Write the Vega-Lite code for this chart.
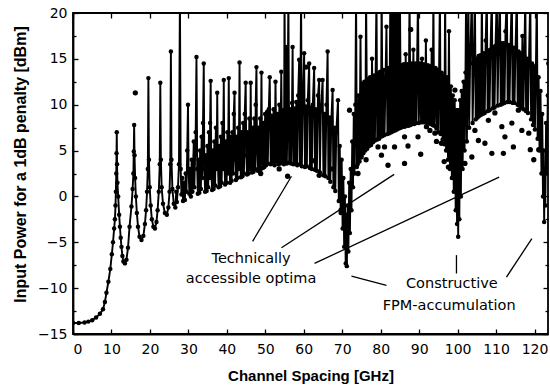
{
"$schema":"https://vega.github.io/schema/vega-lite/v6.json",
"width":475,"height":321,
"autosize":{"type":"none"},
"padding":{"left":73,"top":13,"right":2,"bottom":53},
"background":"white",
"config":{"view":{"stroke":"black","strokeWidth":1.8},"axis":{"domainColor":"black","domainWidth":1.8,"tickColor":"black","tickWidth":1.3,"labelColor":"black","titleColor":"black","labelFont":"DejaVu Sans","labelFontSize":14,"grid":false}},
"datasets":{
"curve":[
{"x":0,"y":-13.8},{"x":1.5,"y":-13.8},{"x":3,"y":-13.75},{"x":4,"y":-13.65},{"x":5,"y":-13.5},{"x":6,"y":-13.2},{"x":7,"y":-12.8},{"x":7.8,"y":-12.3},{"x":8.3,"y":-11.5},{"x":8.7,"y":-10.5},{"x":9.2,"y":-9.3},{"x":9.7,"y":-7.9},{"x":10.1,"y":-6.3},{"x":10.4,"y":-5},{"x":10.7,"y":-3.5},{"x":10.9,"y":-2.5},{"x":11.05,"y":-1},{"x":11.15,"y":0.5},{"x":11.25,"y":2.5},{"x":11.32,"y":4.7},{"x":11.38,"y":7},{"x":11.45,"y":3.5},{"x":11.55,"y":1.5},{"x":11.75,"y":0},{"x":12.0,"y":-2},{"x":12.2,"y":-3.3},{"x":12.4,"y":-4.5},{"x":12.6,"y":-5.5},{"x":12.85,"y":-6.5},{"x":13.1,"y":-7.1},{"x":13.5,"y":-7.3},{"x":13.9,"y":-6.9},{"x":14.3,"y":-5.6},{"x":14.7,"y":-3.3},{"x":15.2,"y":-1.1},{"x":15.5,"y":0.8},{"x":15.7,"y":2.5},{"x":15.8,"y":4.9},{"x":15.9,"y":7.8},{"x":16.0,"y":4.5},{"x":16.15,"y":2},{"x":16.35,"y":0},{"x":16.6,"y":-1.8},{"x":16.9,"y":-3.3},{"x":17.3,"y":-4.4},{"x":17.8,"y":-4.75},{"x":18.3,"y":-4.3},{"x":18.7,"y":-3},{"x":19.0,"y":-1.5},{"x":19.25,"y":0.5},{"x":19.45,"y":3},{"x":19.6,"y":12.9},{"x":19.75,"y":4},{"x":19.95,"y":1},{"x":20.2,"y":-1},{"x":20.5,"y":-2.5},{"x":20.9,"y":-3.3},{"x":21.3,"y":-3.5},{"x":21.7,"y":-2.8},{"x":22.0,"y":-1.5},{"x":22.3,"y":0.5},{"x":22.55,"y":3.5},{"x":22.7,"y":12.4},{"x":22.85,"y":4},{"x":23.05,"y":1},{"x":23.4,"y":-0.8},{"x":23.9,"y":-1.8},{"x":24.4,"y":-2.0},{"x":24.8,"y":-1.2},{"x":25.1,"y":0.5},{"x":25.3,"y":3.5},{"x":25.45,"y":15.8},
{"x":25.6,"y":4},{"x":25.85,"y":0.8},{"x":26.2,"y":-0.8},{"x":26.6,"y":-1.2},{"x":26.85,"y":0.5},{"x":27.0,"y":-0.6},{"x":27.3,"y":1},{"x":27.55,"y":3.5},{"x":27.8,"y":22},{"x":28.0,"y":3},{"x":28.2,"y":0.2},{"x":28.4,"y":2},{"x":28.6,"y":-0.5},{"x":28.85,"y":1.5},{"x":29.1,"y":-0.4},{"x":29.3,"y":2.5},{"x":29.5,"y":0.5},{"x":29.7,"y":5},{"x":29.9,"y":10},{"x":30.05,"y":3},{"x":30.25,"y":0.3},{"x":30.45,"y":3},{"x":30.65,"y":0},{"x":30.85,"y":4},{"x":31.05,"y":0.5},{"x":31.25,"y":3.5},{"x":31.4,"y":6},{"x":31.55,"y":1},{"x":31.75,"y":4.5},{"x":31.9,"y":7},{"x":32.1,"y":15.2},{"x":32.3,"y":3},{"x":32.45,"y":0.3},{"x":32.65,"y":4},{"x":32.85,"y":0.4},{"x":33.05,"y":5},{"x":33.25,"y":0.8},{"x":33.45,"y":6.5},{"x":33.6,"y":2},{"x":33.8,"y":8},{"x":34.0,"y":14.5},{"x":34.15,"y":3},{"x":34.35,"y":0.5},{"x":34.55,"y":4.5},{"x":34.75,"y":0.6},{"x":34.95,"y":5.5},{"x":35.15,"y":1},{"x":35.35,"y":7},{"x":35.5,"y":2},{"x":35.65,"y":8},{"x":35.8,"y":12.6},{"x":35.95,"y":3},{"x":36.15,"y":0.7},{"x":36.35,"y":5},{"x":36.55,"y":0.8},{"x":36.75,"y":6},{"x":36.95,"y":1.2},{"x":37.15,"y":7.5},{"x":37.35,"y":3},{"x":37.5,"y":11.3},{"x":37.65,"y":4},{"x":37.85,"y":1},{"x":38.05,"y":5.5},{"x":38.25,"y":1.1},{"x":38.45,"y":6.5},{"x":38.65,"y":1.5},{"x":38.85,"y":8},{"x":39.0,"y":3},{"x":39.2,"y":12.7},{"x":39.35,"y":4},{"x":39.55,"y":1.3},{"x":39.75,"y":6},{"x":39.95,"y":1.5},{"x":40.15,"y":7},{"x":40.3,"y":2.5},{"x":40.5,"y":12.9},{"x":40.65,"y":4},{"x":40.85,"y":1.5},{"x":41.05,"y":6.5},{"x":41.25,"y":1.7},{"x":41.45,"y":7},{"x":41.6,"y":2.5},{"x":41.8,"y":9},{"x":42.0,"y":11.3},{"x":42.15,"y":4},{"x":42.35,"y":1.8},{"x":42.55,"y":6.5},{"x":42.75,"y":2},{"x":42.95,"y":7.5},{"x":43.1,"y":3},{"x":43.3,"y":14.6},{"x":43.45,"y":4},{"x":43.65,"y":2.1},{"x":43.85,"y":7},{"x":44.05,"y":2.2},{"x":44.25,"y":8},{"x":44.45,"y":2.5},{"x":44.65,"y":9},{"x":44.9,"y":12.4},{"x":45.05,"y":4.5},{"x":45.25,"y":2.4},{"x":45.45,"y":7},{"x":45.65,"y":2.5},{"x":45.85,"y":8.5},{"x":46.05,"y":3},{"x":46.2,"y":12.4},{"x":46.35,"y":4},{"x":46.55,"y":2.6},{"x":46.75,"y":7.5},{"x":46.95,"y":2.7},{"x":47.15,"y":8.5},{"x":47.35,"y":3},{"x":47.5,"y":10},{"x":47.7,"y":14.1},{"x":47.85,"y":5},{"x":48.05,"y":2.8},{"x":48.25,"y":7.5},{"x":48.45,"y":2.9},{"x":48.65,"y":8.5},{"x":48.8,"y":3},{"x":49.0,"y":13.5},{"x":49.15,"y":5},{"x":49.35,"y":3.1},{"x":49.55,"y":8},{"x":49.75,"y":3.2},{"x":49.95,"y":9},
{"x":50.2,"y":3.4},{"x":50.45,"y":9.2},{"x":50.65,"y":3.6},{"x":50.9,"y":9.5},{"x":51.15,"y":13},{"x":51.4,"y":3.5},{"x":51.65,"y":8.8},{"x":51.9,"y":3.7},{"x":52.15,"y":9.5},{"x":52.4,"y":3.4},{"x":52.65,"y":12.5},{"x":52.9,"y":3.8},{"x":53.15,"y":9},{"x":53.4,"y":3.5},{"x":53.65,"y":10},{"x":53.9,"y":3.6},{"x":54.15,"y":13.6},{"x":54.4,"y":3.7},{"x":54.65,"y":9.4},{"x":54.85,"y":3.5},{"x":55.0,"y":22},{"x":55.2,"y":3.8},{"x":55.4,"y":16.3},{"x":55.6,"y":3.6},{"x":55.8,"y":9.8},{"x":56.0,"y":22},{"x":56.2,"y":3.7},{"x":56.45,"y":9.5},{"x":56.7,"y":3.6},{"x":56.95,"y":10.2},{"x":57.1,"y":16.3},{"x":57.3,"y":3.5},{"x":57.55,"y":9.6},{"x":57.8,"y":3.6},{"x":58.05,"y":10.3},{"x":58.3,"y":3.4},{"x":58.55,"y":11},{"x":58.8,"y":14.9},{"x":59.0,"y":3.5},{"x":59.3,"y":22},{"x":59.5,"y":3.3},{"x":59.75,"y":10},{"x":60.1,"y":15.6},{"x":60.3,"y":3.2},{"x":60.55,"y":9.8},{"x":60.8,"y":3.3},{"x":61.05,"y":10.5},{"x":61.4,"y":14.5},{"x":61.6,"y":3.1},{"x":61.85,"y":9.7},{"x":62.1,"y":3.0},{"x":62.35,"y":10},{"x":62.7,"y":14},{"x":62.9,"y":2.9},{"x":63.15,"y":9.5},{"x":63.4,"y":2.8},{"x":63.7,"y":11},{"x":64.0,"y":12.7},{"x":64.2,"y":2.6},{"x":64.45,"y":9.3},{"x":64.9,"y":12.7},{"x":65.1,"y":2.3},{"x":65.35,"y":9},{"x":65.6,"y":2.2},{"x":65.9,"y":10},{"x":66.2,"y":15.8},{"x":66.4,"y":2.0},{"x":66.65,"y":8.6},{"x":66.9,"y":1.6},{"x":67.15,"y":8.2},{"x":67.5,"y":11.6},{"x":67.7,"y":1.0},{"x":67.95,"y":7.5},{"x":68.2,"y":0.6},{"x":68.45,"y":7},{"x":68.9,"y":10.5},{"x":69.1,"y":-0.5},{"x":69.35,"y":5.5},{"x":69.6,"y":-1.8},{"x":69.85,"y":4},{"x":70.1,"y":-3.5},{"x":70.3,"y":2},{"x":70.5,"y":-5.5},{"x":70.7,"y":0},{"x":70.9,"y":-7.3},{"x":71.05,"y":-2},{"x":71.2,"y":-7.6},{"x":71.4,"y":-1},{"x":71.6,"y":-6},{"x":71.8,"y":1.5},{"x":72.0,"y":-4},{"x":72.2,"y":3},{"x":72.4,"y":-1.5},{"x":72.6,"y":6},{"x":72.8,"y":1},{"x":73.0,"y":9},{"x":73.2,"y":2.5},
{"x":73.4,"y":10},{"x":73.6,"y":22},{"x":73.8,"y":3.2},{"x":74.0,"y":3.5},{"x":74.25,"y":11},{"x":74.5,"y":3.8},{"x":74.75,"y":17.4},{"x":75.0,"y":4.4},{"x":75.25,"y":12.3},{"x":75.5,"y":4.7},{"x":75.75,"y":12.5},{"x":76.0,"y":5},{"x":76.2,"y":22},{"x":76.5,"y":5.2},{"x":76.75,"y":12.8},{"x":77.0,"y":5.5},{"x":77.25,"y":13},{"x":77.5,"y":5.6},{"x":77.75,"y":15},{"x":78.0,"y":5.9},{"x":78.25,"y":13.2},{"x":78.5,"y":6.1},{"x":78.9,"y":22},{"x":79.1,"y":6.2},{"x":79.35,"y":13.4},{"x":79.6,"y":6.3},{"x":79.85,"y":13.6},{"x":80.05,"y":6.5},{"x":80.25,"y":22},{"x":80.5,"y":6.6},{"x":80.75,"y":13.8},{"x":81.0,"y":6.7},{"x":81.5,"y":18.5},{"x":81.75,"y":6.8},{"x":82.0,"y":14},{"x":82.25,"y":6.9},{"x":82.5,"y":22},{"x":82.75,"y":7},{"x":83.0,"y":22},{"x":83.25,"y":7.1},{"x":83.5,"y":22},{"x":83.75,"y":7.2},{"x":84.0,"y":22},{"x":84.25,"y":7.3},{"x":84.5,"y":22},{"x":84.75,"y":7.4},{"x":85.0,"y":22},{"x":85.25,"y":7.5},{"x":85.5,"y":14.3},{"x":85.75,"y":7.6},{"x":86.0,"y":14.4},{"x":86.25,"y":7.6},{"x":86.5,"y":15.5},{"x":86.75,"y":7.7},{"x":87.0,"y":14.4},{"x":87.25,"y":7.7},{"x":87.5,"y":22},{"x":87.75,"y":7.8},{"x":88.0,"y":14.5},{"x":88.25,"y":7.9},{"x":88.5,"y":16},{"x":88.75,"y":7.9},{"x":89.0,"y":14.5},{"x":89.25,"y":8},{"x":89.7,"y":22},{"x":89.9,"y":8},{"x":90.25,"y":14.5},{"x":90.5,"y":8.1},{"x":90.75,"y":15},{"x":91.0,"y":8.1},{"x":91.25,"y":14.4},{"x":91.5,"y":8.1},{"x":91.75,"y":17},{"x":92.0,"y":8.1},{"x":92.25,"y":14.3},{"x":92.5,"y":8},{"x":92.75,"y":14.2},{"x":93.0,"y":7.9},{"x":93.25,"y":16},{"x":93.5,"y":7.8},{"x":93.7,"y":22},{"x":93.9,"y":7.7},{"x":94.25,"y":14},{"x":94.5,"y":7.4},{"x":94.75,"y":13.8},{"x":95.0,"y":7},{"x":95.4,"y":22},{"x":95.6,"y":6.8},{"x":95.85,"y":13.5},{"x":96.1,"y":6.2},{"x":96.35,"y":13.2},{"x":96.55,"y":5.7},{"x":96.75,"y":22},{"x":97.0,"y":5},{"x":97.25,"y":13},{"x":97.5,"y":4},{"x":97.75,"y":18},{"x":98.0,"y":3},{"x":98.25,"y":12},{"x":98.5,"y":2},{"x":98.75,"y":11},{"x":99.0,"y":0.5},{"x":99.25,"y":10.5},{"x":99.5,"y":-1.5},{"x":99.7,"y":9.4},{"x":99.85,"y":-3},{"x":100.0,"y":9.4},{"x":100.15,"y":-4.4},{"x":100.3,"y":9.4},{"x":100.45,"y":-2.5},{"x":100.65,"y":10.5},{"x":100.85,"y":0},{"x":101.05,"y":11.5},{"x":101.3,"y":3},{"x":101.55,"y":12.5},{"x":101.8,"y":5},{"x":102.05,"y":13.5},{"x":102.2,"y":22},{"x":102.4,"y":6},{"x":102.65,"y":14},{"x":102.8,"y":22},{"x":103.0,"y":7.5},
{"x":103.25,"y":14.5},{"x":103.7,"y":22},{"x":103.9,"y":8},{"x":104.2,"y":14.8},{"x":104.5,"y":22},{"x":104.7,"y":8.4},{"x":104.95,"y":15},{"x":105.2,"y":8.6},{"x":105.45,"y":15.3},{"x":105.7,"y":8.8},{"x":105.95,"y":15.4},{"x":106.1,"y":8.9},{"x":106.3,"y":22},{"x":106.55,"y":9},{"x":106.8,"y":15.6},{"x":107.05,"y":9.1},{"x":107.3,"y":17},{"x":107.6,"y":22},{"x":107.8,"y":9.3},{"x":108.05,"y":15.9},{"x":108.3,"y":9.4},{"x":108.55,"y":16},{"x":108.9,"y":22},{"x":109.1,"y":9.6},{"x":109.35,"y":16.3},{"x":109.6,"y":9.7},{"x":109.85,"y":16.4},{"x":110.2,"y":22},{"x":110.4,"y":9.9},{"x":110.65,"y":16.5},{"x":111.0,"y":22},{"x":111.2,"y":10},{"x":111.45,"y":16.7},{"x":111.7,"y":10.1},{"x":111.95,"y":16.7},{"x":112.2,"y":10.2},{"x":112.45,"y":18},{"x":112.8,"y":22},{"x":113.0,"y":10.3},{"x":113.25,"y":16.5},{"x":113.5,"y":10.3},{"x":113.75,"y":16.5},{"x":114.1,"y":22},{"x":114.3,"y":10.2},{"x":114.55,"y":16.2},{"x":114.8,"y":10.2},{"x":115.05,"y":16},{"x":115.4,"y":22},{"x":115.6,"y":10},{"x":115.85,"y":15.8},{"x":116.1,"y":9.9},{"x":116.35,"y":15.6},{"x":116.6,"y":9.7},{"x":116.85,"y":17.5},{"x":117.1,"y":9.5},{"x":117.35,"y":15.3},{"x":117.6,"y":22},{"x":117.8,"y":9.3},{"x":118.05,"y":15},{"x":118.3,"y":9.1},{"x":118.55,"y":14.8},{"x":118.9,"y":22},{"x":119.1,"y":8.4},{"x":119.35,"y":14.5},{"x":119.6,"y":7.8},{"x":119.85,"y":14.2},{"x":120.1,"y":7.3},{"x":120.35,"y":14},{"x":120.6,"y":22},{"x":120.8,"y":6.3},{"x":121.05,"y":13},{"x":121.3,"y":5},{"x":121.55,"y":11.5},{"x":121.8,"y":2.5},{"x":122.0,"y":9},{"x":122.2,"y":0},{"x":122.35,"y":5},{"x":122.5,"y":-2.8},{"x":122.65,"y":3},{"x":122.8,"y":-1},{"x":123.0,"y":8},{"x":123.2,"y":2.5},{"x":123.45,"y":11},{"x":123.7,"y":5.5},{"x":123.95,"y":12},{"x":124.2,"y":7}
],
"dots":[
{"x":16.2,"y":11.3},{"x":48.8,"y":2.5},{"x":53.6,"y":3.0},{"x":55.8,"y":2.2},{"x":60.6,"y":14.1},{"x":62.7,"y":3.9},{"x":64,"y":2.3},{"x":67.5,"y":3.0},{"x":69.7,"y":-1.5},{"x":71.9,"y":9.4},{"x":74.1,"y":2.5},{"x":74.9,"y":4.3},{"x":76.2,"y":4},{"x":79.3,"y":5.4},{"x":80.2,"y":4.5},{"x":81,"y":5.4},{"x":81.9,"y":3.4},{"x":83.6,"y":5.4},{"x":86.2,"y":6.5},{"x":86.2,"y":3.6},{"x":87.1,"y":5.5},{"x":87.8,"y":18.2},{"x":89.7,"y":6.5},{"x":90.4,"y":4.6},{"x":91.9,"y":7.6},{"x":92.8,"y":7.2},{"x":94.1,"y":6.9},{"x":94.5,"y":6},{"x":95.8,"y":5.8},{"x":96.5,"y":3.8},{"x":97.6,"y":3.2},{"x":99.3,"y":11.6},{"x":101.9,"y":3.6},{"x":103.7,"y":4.3},{"x":104.5,"y":7.2},{"x":105.4,"y":6.1},{"x":107.1,"y":5.8},{"x":108,"y":8.3},{"x":108.9,"y":4.7},{"x":109.7,"y":9.1},{"x":111.5,"y":7.6},{"x":111.9,"y":4.7},{"x":112.3,"y":6.5},{"x":114.1,"y":8},{"x":114.5,"y":5.4},{"x":115.8,"y":9.4},{"x":116.7,"y":7.2},{"x":118.5,"y":6.9},{"x":118.9,"y":5.1},{"x":119.8,"y":4},{"x":121.1,"y":5.1},{"x":123.7,"y":14.5}
],
"ann":[
{"x":56.8,"y":2.2,"x2":46.7,"y2":-4.9},
{"x":54.2,"y":-5.6,"x2":83.5,"y2":2.4},
{"x":62.8,"y":-7.3,"x2":110.8,"y2":2.1},
{"x":72.4,"y":-8.7,"x2":81.5,"y2":-9.7},
{"x":99.7,"y":-6.4,"x2":99.7,"y2":-8.4},
{"x":119.3,"y":-4.6,"x2":112.7,"y2":-8.8}
],
"lab":[
{"x":46.3,"y":-6.8,"t":"Technically"},
{"x":46.3,"y":-9.0,"t":"accessible optima"},
{"x":98.5,"y":-9.6,"t":"Constructive"},
{"x":97.8,"y":-11.95,"t":"FPM-accumulation"}
]
},
"resolve":{"axis":{"x":"independent","y":"independent"}},
"layer":[
{"data":{"name":"curve"},
 "mark":{"type":"line","color":"black","strokeWidth":1.9,"clip":true},
 "encoding":{
  "x":{"field":"x","type":"quantitative","scale":{"domain":[0,123.5],"nice":false,"zero":false},
   "axis":{"orient":"bottom","values":[0,10,20,30,40,50,60,70,80,90,100,110,120],"title":"Channel Spacing [GHz]","titleFont":"Liberation Sans","titleFontWeight":"bold","titleFontSize":15,"titleY":41,"titleBaseline":"middle","tickSize":-5,"labelPadding":13}},
  "y":{"field":"y","type":"quantitative","scale":{"domain":[-15,20],"nice":false,"zero":false},
   "axis":{"orient":"left","values":[-15,-10,-5,0,5,10,15,20],"title":"Input Power for a 1dB penalty [dBm]","titleFont":"Liberation Sans","titleFontWeight":"bold","titleFontSize":16,"titleX":-53,"titleY":151,"titleAngle":-90,"titleAlign":"center","titleBaseline":"middle","tickSize":-5,"labelPadding":11}}
 }},
{"data":{"name":"curve"},
 "mark":{"type":"point","filled":true,"color":"black","size":20,"opacity":1,"clip":true},
 "encoding":{
  "x":{"field":"x","type":"quantitative","scale":{"domain":[0,123.5],"nice":false,"zero":false},
   "axis":{"orient":"top","values":[0,10,20,30,40,50,60,70,80,90,100,110,120],"labels":false,"title":null,"tickSize":-5,"domain":false}},
  "y":{"field":"y","type":"quantitative","scale":{"domain":[-15,20],"nice":false,"zero":false},
   "axis":{"orient":"right","values":[-15,-10,-5,0,5,10,15,20],"labels":false,"title":null,"tickSize":-5,"domain":false}}
 }},
{"data":{"name":"dots"},
 "mark":{"type":"point","filled":true,"color":"black","size":28,"opacity":1,"clip":true},
 "encoding":{
  "x":{"field":"x","type":"quantitative","scale":{"domain":[0,123.5],"nice":false,"zero":false},"axis":null},
  "y":{"field":"y","type":"quantitative","scale":{"domain":[-15,20],"nice":false,"zero":false},
   "axis":{"orient":"left","values":[-12.5,-7.5,-2.5,2.5,7.5,12.5,17.5],"labels":false,"title":null,"tickSize":-3,"domain":false}}
 }},
{"data":{"name":"ann"},
 "mark":{"type":"rule","color":"black","strokeWidth":1.3},
 "encoding":{
  "x":{"field":"x","type":"quantitative","scale":{"domain":[0,123.5],"nice":false,"zero":false},"axis":null},
  "y":{"field":"y","type":"quantitative","scale":{"domain":[-15,20],"nice":false,"zero":false},
   "axis":{"orient":"right","values":[-12.5,-7.5,-2.5,2.5,7.5,12.5,17.5],"labels":false,"title":null,"tickSize":-3,"domain":false}},
  "x2":{"field":"x2"},"y2":{"field":"y2"}
 }},
{"data":{"name":"lab"},
 "mark":{"type":"text","color":"black","font":"DejaVu Sans","fontSize":14.5,"align":"center","baseline":"middle"},
 "encoding":{
  "x":{"field":"x","type":"quantitative","scale":{"domain":[0,123.5],"nice":false,"zero":false},"axis":null},
  "y":{"field":"y","type":"quantitative","scale":{"domain":[-15,20],"nice":false,"zero":false},"axis":null},
  "text":{"field":"t"}
 }}
]
}
